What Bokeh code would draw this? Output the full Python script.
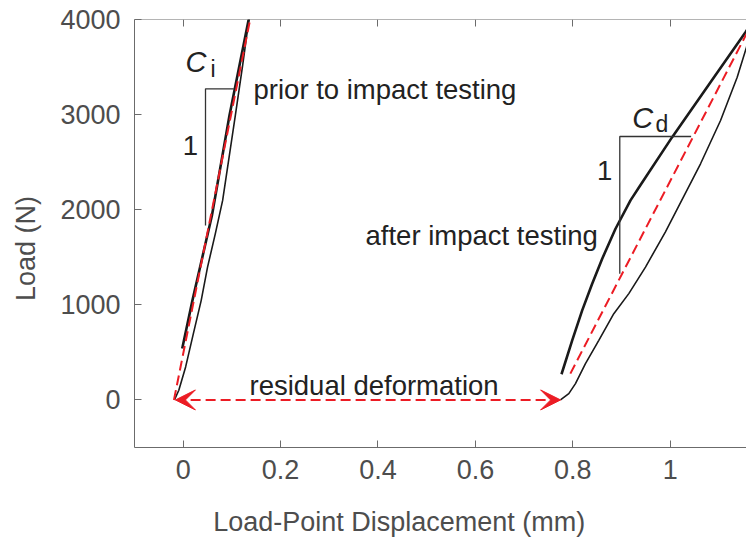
import math
from bokeh.plotting import figure
from bokeh.models import Range1d, LinearAxis, FixedTicker, Label, Arrow, VeeHead
from bokeh.embed import file_html
from bokeh.resources import INLINE

# ---------------- data ----------------
x_ticks = [0, 0.2, 0.4, 0.6, 0.8, 1.0]
x_tick_labels = ["0", "0.2", "0.4", "0.6", "0.8", "1"]
y_ticks = [0, 1000, 2000, 3000, 4000]
y_top = 4000

# prior to impact testing: loading branch (thin) and unloading branch (thick)
pre_load_x = [-0.018, -0.009, 0.005, 0.021, 0.037, 0.050, 0.066, 0.081, 0.107, 0.122, 0.136]
pre_load_y = [0, 102, 347, 700, 1047, 1397, 1748, 2098, 2990, 3515, 4040]
pre_unload_x = [-0.002, 0.019, 0.059, 0.095, 0.136]
pre_unload_y = [540, 1047, 1940, 2990, 4040]
fit_pre_x = [-0.019, 0.139]
fit_pre_y = [0, 4040]

# after impact testing
post_load_x = [0.7747, 0.7918, 0.8055, 0.826, 0.8534, 0.8842, 0.915, 0.9493, 0.990,
               1.0623, 1.1034, 1.1376, 1.1567, 1.172]
post_load_y = [0, 67, 172, 382, 627, 907, 1118, 1397, 1765, 2483, 2938, 3393, 3708, 4000]
post_unload_x = [0.7768, 0.7988, 0.8193, 0.8398, 0.8604, 0.8877, 0.9185, 0.9384, 1.004,
                 1.0828, 1.1546, 1.172]
post_unload_y = [270, 627, 942, 1222, 1485, 1800, 2098, 2254, 2763, 3340, 3866, 4000]
fit_post_x = [0.795, 1.172]
fit_post_y = [277, 4000]

# residual deformation arrow
resid_x = [-0.016, 0.775]
resid_y = [0, 0]

# compliance triangles
tri_i_x = [0.104, 0.0458, 0.0458]
tri_i_y = [3271, 3271, 1835]
tri_d_x = [1.043, 0.8965, 0.8965]
tri_d_y = [2770, 2770, 1328]

RED = "#ec1c24"
BLK = "#1a1a1a"
AX = "#6b6b6b"
TXT = "#4d4d4d"
FONT = "Liberation Sans"
NB = "\u00a0"

p = figure(width=746, height=540, output_backend="svg", toolbar_location=None,
           x_range=Range1d(-0.1, 1.1567), y_range=Range1d(-500, y_top),
           x_axis_location=None, y_axis_location=None,
           min_border_left=134, min_border_right=0, min_border_top=19,
           min_border_bottom=93)
p.outline_line_color = None
p.xgrid.visible = False
p.ygrid.visible = False
p.background_fill_color = "white"
p.border_fill_color = "white"

xb = LinearAxis(ticker=FixedTicker(ticks=x_ticks),
                axis_label="Load-Point Displacement (mm)" + NB * 11)
yl = LinearAxis(ticker=FixedTicker(ticks=y_ticks), axis_label="Load (N)" + NB * 4)
p.add_layout(xb, "below")
p.add_layout(yl, "left")

for ax in [xb, yl]:
    ax.axis_line_color = AX
    ax.axis_line_width = 1
    ax.major_tick_line_color = AX
    ax.major_tick_in = 7
    ax.major_tick_out = 0
    ax.minor_tick_line_color = None
    ax.major_label_text_font = FONT
    ax.major_label_text_font_size = "27px"
    ax.major_label_text_color = TXT
    ax.axis_label_text_font = FONT
    ax.axis_label_text_font_size = "27px"
    ax.axis_label_text_font_style = "normal"
    ax.axis_label_text_color = TXT

xb.major_label_overrides = {t: l for t, l in zip(x_ticks, x_tick_labels)}
xb.major_label_standoff = 12
xb.axis_label_standoff = 25
yl.major_label_standoff = 14
yl.axis_label_standoff = 16

# top box edge: an unlabeled axis fixed at the top of the y range, ticks pointing down
xt = LinearAxis(ticker=FixedTicker(ticks=x_ticks), fixed_location=y_top)
xt.axis_line_color = AX
xt.axis_line_width = 1
xt.major_tick_line_color = AX
xt.major_tick_in = 0
xt.major_tick_out = 7
xt.minor_tick_line_color = None
xt.major_label_text_color = None
xt.major_label_text_font_size = "10px"
p.add_layout(xt, "below")

# curves
p.line(pre_load_x, pre_load_y, line_color=BLK, line_width=1.6)
p.line(pre_unload_x, pre_unload_y, line_color=BLK, line_width=2.6)
p.line(fit_pre_x, fit_pre_y, line_color=RED, line_width=2, line_dash="10 5")
p.line(post_load_x, post_load_y, line_color=BLK, line_width=1.6)
p.line(post_unload_x, post_unload_y, line_color=BLK, line_width=2.6)
p.line(fit_post_x, fit_post_y, line_color=RED, line_width=2, line_dash="10 5")

p.line(tri_i_x, tri_i_y, line_color="#333333", line_width=1.3)
p.line(tri_d_x, tri_d_y, line_color="#333333", line_width=1.3)

p.add_layout(Arrow(start=VeeHead(size=20, fill_color=RED, line_color=RED, line_width=1),
                   end=VeeHead(size=20, fill_color=RED, line_color=RED, line_width=1),
                   x_start=resid_x[1], y_start=resid_y[1], x_end=resid_x[0], y_end=resid_y[0],
                   line_color=RED, line_width=2, line_dash="10 5"))

DY = 84  # Label baseline correction (about 8 px)

def lab(x, y, t, size="27.5px", style="normal", align="left"):
    p.add_layout(Label(x=x, y=y + DY, text=t, text_font=FONT, text_font_size=size,
                       text_font_style=style, text_color="#222222", text_align=align,
                       text_baseline="alphabetic"))

lab(0.1444, 3183, "prior to impact testing")
lab(0.3744, 1643, "after impact testing")
lab(0.1361, 67, "residual deformation")
lab(0.0150, 2588, "1", align="center")
lab(0.8655, 2326, "1", align="center")
lab(0.0047, 3470, "C", size="29px", style="italic")
lab(0.0561, 3400, "i", size="23px")
lab(0.922, 2885, "C", size="29px", style="italic")
lab(0.9698, 2815, "d", size="23px")

open("out.html", "w").write(file_html(p, INLINE))
